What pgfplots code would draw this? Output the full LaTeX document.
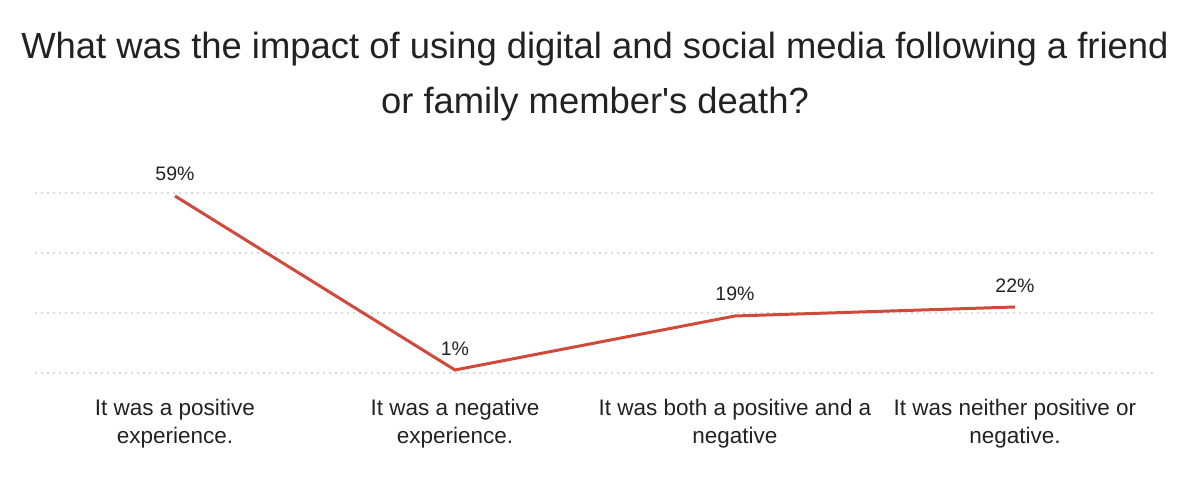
\documentclass[border=0pt]{standalone}
\usepackage{pgfplots}
\pgfplotsset{compat=1.18}
\usepackage{fontspec}
\setmainfont{Liberation Sans}
\definecolor{linered}{HTML}{D04A3C}
\definecolor{gridgray}{HTML}{DADADA}
\definecolor{txt}{HTML}{222222}
\begin{document}
\begin{tikzpicture}[x=1bp,y=1bp]
\useasboundingbox (0,0) rectangle (1200,478);
\begin{axis}[
  at={(35bp,105bp)}, anchor=south west,
  scale only axis, width=1120bp, height=180bp,
  xmin=-0.5, xmax=3.5, ymin=0, ymax=60,
  axis line style={draw=none},
  clip=false,
  /pgf/number format/assume math mode=true,
  xtick={0,1,2,3},
  xticklabels={{It was a positive\\experience.},{It was a negative\\experience.},{It was both a positive and a\\negative},{It was neither positive or\\negative.}},
  ytick={0,20,40,60}, yticklabels={},
  major tick length=0pt,
  ymajorgrids,
  grid style={color=gridgray, line width=2bp, dash pattern=on 1.6bp off 4.4bp},
  xticklabel style={align=center, font=\fontsize{22.5bp}{28bp}\selectfont, text=txt, anchor=north, yshift=-23bp},
  nodes near coords={\pgfmathprintnumber{\pgfplotspointmeta}\%},
  every node near coord/.append style={font=\fontsize{19.5bp}{22bp}\selectfont, text=txt, anchor=south, yshift=10bp},
  title={What was the impact of using digital and social media following a friend\\or family member\textquotesingle s death?},
  title style={at={(rel axis cs:0.5,1)}, anchor=center, yshift=110bp, align=center, font=\fontsize{36.4bp}{55bp}\selectfont, text=txt},
]
\addplot[color=linered, line width=3bp, mark=none] coordinates {(0,59) (1,1) (2,19) (3,22)};
\end{axis}
\end{tikzpicture}
\end{document}
